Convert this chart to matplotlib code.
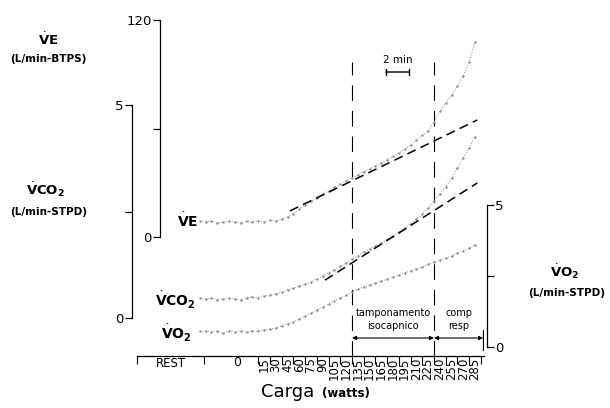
import matplotlib
matplotlib.use("Agg")
import matplotlib.pyplot as plt
import matplotlib.transforms as mtransforms

plt.rcParams['font.family'] = 'DejaVu Sans'
plt.rcParams['mathtext.fontset'] = 'dejavusans'

# time (min, 0 = start of the 15 W step) and breath data
t_min = [-5.0, -4.5, -4.0, -3.5, -3.0, -2.5, -2.0, -1.5, -1.0, -0.5,
         0.0, 0.5, 1.0, 1.5, 2.0, 2.5, 3.0, 3.5, 4.0, 4.5,
         5.0, 5.5, 6.0, 6.5, 7.0, 7.5, 8.0, 8.5, 9.0, 9.5,
         10.0, 10.5, 11.0, 11.5, 12.0, 12.5, 13.0, 13.5, 14.0, 14.5,
         15.0, 15.5, 16.0, 16.5, 17.0, 17.5, 18.0, 18.5]
ve = [8.6, 8.3, 8.8, 7.7, 8.3, 8.8, 8.3, 7.7, 8.8, 8.3,
      8.8, 8.3, 9.4, 8.8, 10.0, 11.1, 12.7, 15.5, 17.7, 19.9,
      21.6, 23.8, 25.4, 27.7, 29.3, 31.0, 32.8, 34.2, 36.2, 37.6,
      39.4, 40.9, 42.8, 44.6, 46.5, 48.4, 50.8, 53.5, 56.2, 58.8,
      63.5, 69.5, 74.1, 78.5, 83.5, 89.0, 96.8, 107.8]
vco2 = [0.46, 0.45, 0.47, 0.42, 0.45, 0.47, 0.45, 0.42, 0.47, 0.49,
        0.47, 0.52, 0.54, 0.56, 0.61, 0.66, 0.70, 0.75, 0.80, 0.84,
        0.92, 0.99, 1.06, 1.13, 1.22, 1.29, 1.38, 1.46, 1.55, 1.62,
        1.69, 1.76, 1.85, 1.92, 2.02, 2.11, 2.21, 2.32, 2.44, 2.58,
        2.75, 2.91, 3.07, 3.29, 3.52, 3.76, 3.99, 4.25]
vo2 = [0.55, 0.56, 0.53, 0.56, 0.49, 0.56, 0.53, 0.56, 0.53, 0.56,
       0.56, 0.60, 0.63, 0.67, 0.74, 0.81, 0.88, 0.99, 1.09, 1.19,
       1.30, 1.41, 1.51, 1.62, 1.73, 1.83, 1.94, 2.04, 2.11, 2.18,
       2.25, 2.32, 2.39, 2.46, 2.54, 2.61, 2.68, 2.75, 2.82, 2.92,
       2.99, 3.06, 3.13, 3.20, 3.31, 3.38, 3.49, 3.59]

# regression lines
ve_fit_t = [2.7, 18.7]
ve_fit = [14.4, 64.7]
co2_fit_t = [5.7, 18.7]
co2_fit = [0.89, 3.17]

# load steps
step_edges = [-10.4, -4.6] + list(range(0, 20))
watts = [str(15 * (k + 1)) for k in range(19)]
phase_edges = [8, 15]       # isocapnic buffering / resp. compensation
end_t = 19.2

W, H = 610, 408
fig = plt.figure(figsize=(W / 100, H / 100), dpi=100)


def box(x0, y0, x1, y1):
    return [x0 / W, 1 - y1 / H, (x1 - x0) / W, (y1 - y0) / H]


XL, XR = 136.5, 484.3
xlim = (-10.4, 19.3)

# load axis
ax = fig.add_axes(box(XL, 20, XR, 356))
ax.patch.set_visible(False)
ax.set_xlim(*xlim)
ax.set_ylim(0, 1)
for s in ['left', 'right', 'top']:
    ax.spines[s].set_visible(False)
ax.spines['bottom'].set_linewidth(0.9)
ax.set_yticks([])
ax.set_xticks(step_edges)
ax.set_xticklabels([])
ax.tick_params(axis='x', which='major', direction='out', length=6, width=0.8)
ax.set_xticks([k + 0.5 for k in range(19)], minor=True)
ax.set_xticklabels(watts, minor=True, rotation=90, fontsize=8.5)
ax.tick_params(axis='x', which='minor', length=0, pad=1)
trans = mtransforms.blended_transform_factory(ax.transData, ax.transAxes)
ax.text(-7.5, -0.022, 'REST', transform=trans, ha='center', va='center', fontsize=8.5)
ax.text(-1.8, -0.02, '0', transform=trans, ha='center', va='center', fontsize=9)

top_frac = (356 - 62) / (356 - 20)
for pe in phase_edges:
    ax.axvline(pe, ymin=0, ymax=top_frac, color='black', lw=0.8, dashes=(14, 9))

ya = (356 - 338) / 336
ax.annotate('', xy=(phase_edges[0], ya), xytext=(phase_edges[1], ya),
            xycoords=trans, textcoords=trans,
            arrowprops=dict(arrowstyle='<|-|>', lw=0.8, color='black',
                            mutation_scale=6, shrinkA=0, shrinkB=0))
ax.annotate('', xy=(phase_edges[1], ya), xytext=(end_t, ya),
            xycoords=trans, textcoords=trans,
            arrowprops=dict(arrowstyle='<|-|>', lw=0.8, color='black',
                            mutation_scale=6, shrinkA=0, shrinkB=0))
ax.axvline(end_t, ymin=(356 - 350) / 336, ymax=(356 - 330) / 336, color='black', lw=0.9)
mid1 = (phase_edges[0] + phase_edges[1]) / 2
mid2 = (phase_edges[1] + end_t) / 2
ax.text(mid1, (356 - 313) / 336, 'tamponamento', transform=trans,
        ha='center', va='center', fontsize=7)
ax.text(mid1, (356 - 326) / 336, 'isocapnico', transform=trans,
        ha='center', va='center', fontsize=7)
ax.text(mid2, (356 - 313) / 336, 'comp', transform=trans,
        ha='center', va='center', fontsize=7)
ax.text(mid2, (356 - 326) / 336, 'resp', transform=trans,
        ha='center', va='center', fontsize=7)

# 2 min bar
yb = (356 - 72) / 336
ax.annotate('', xy=(10.9, yb), xytext=(12.9, yb), xycoords=trans, textcoords=trans,
            arrowprops=dict(arrowstyle='|-|,widthA=0.25,widthB=0.25', lw=1.0,
                            color='black', shrinkA=0, shrinkB=0))
ax.text(11.9, (356 - 60) / 336, '2 min', transform=trans, ha='center', va='center', fontsize=7.5)

dot_kw = dict(color='#8a8a8a', marker='.', markersize=1.4, lw=0.7,
              ls=(0, (1, 1.8)), clip_on=False)
fit_kw = dict(color='black', lw=1.1, dashes=(6, 3.5), clip_on=False)


def style_side(a, side, pos):
    a.patch.set_visible(False)
    a.set_xlim(*xlim)
    a.set_xticks([])
    for s in ['left', 'right', 'top', 'bottom']:
        a.spines[s].set_visible(s == side)
    a.spines[side].set_position(('axes', pos))
    a.spines[side].set_linewidth(0.9)
    a.tick_params(axis='y', direction='out', length=5, width=0.9, labelsize=9.5, pad=1)
    if side == 'right':
        a.yaxis.tick_right()


# VE axis
ax_ve = fig.add_axes(box(XL, 20, XR, 237))
style_side(ax_ve, 'left', (160 - XL) / (XR - XL))
ax_ve.set_ylim(0, 120)
ax_ve.set_yticks([0, 60, 120])
ax_ve.set_yticklabels(['0', '', '120'])
ax_ve.plot(t_min, ve, **dot_kw)
ax_ve.plot(ve_fit_t, ve_fit, **fit_kw)

# VCO2 axis
ax_c = fig.add_axes(box(XL, 105, XR, 318))
style_side(ax_c, 'left', (132 - XL) / (XR - XL))
ax_c.set_ylim(0, 5)
ax_c.set_yticks([0, 2.5, 5])
ax_c.set_yticklabels(['0', '', '5'])
ax_c.plot(t_min, vco2, **dot_kw)
ax_c.plot(co2_fit_t, co2_fit, **fit_kw)

# VO2 axis
ax_o = fig.add_axes(box(XL, 205, XR, 347))
style_side(ax_o, 'right', (487 - XL) / (XR - XL))
ax_o.set_ylim(0, 5)
ax_o.set_yticks([0, 2.5, 5])
ax_o.set_yticklabels(['0', '', '5'])
ax_o.plot(t_min, vo2, **dot_kw)


def ftext(x, y, s, **kw):
    fig.text(x / W, 1 - y / H, s, ha=kw.pop('ha', 'center'), va='center', **kw)


ftext(48, 40, r'$\dot{\mathbf{V}}\mathbf{E}$', fontsize=9.5)
ftext(48, 59, '(L/min-BTPS)', fontsize=7.5, fontweight='bold')
ftext(45, 190, r'$\dot{\mathbf{V}}\mathbf{CO}_\mathbf{2}$', fontsize=9.5)
ftext(49, 212, '(L/min-STPD)', fontsize=7.5, fontweight='bold')
ftext(565, 272, r'$\dot{\mathbf{V}}\mathbf{O}_\mathbf{2}$', fontsize=9.5)
ftext(567, 293, '(L/min-STPD)', fontsize=7.5, fontweight='bold')

ftext(198, 221, r'$\dot{\mathbf{V}}\mathbf{E}$', fontsize=10, ha='right')
ftext(196, 300, r'$\dot{\mathbf{V}}\mathbf{CO}_\mathbf{2}$', fontsize=10, ha='right')
ftext(192, 333, r'$\dot{\mathbf{V}}\mathbf{O}_\mathbf{2}$', fontsize=10, ha='right')

ftext(288, 392, 'Carga', fontsize=13)
ftext(346, 393, '(watts)', fontsize=8.5, fontweight='bold')

fig.savefig('out.png', dpi=100)
